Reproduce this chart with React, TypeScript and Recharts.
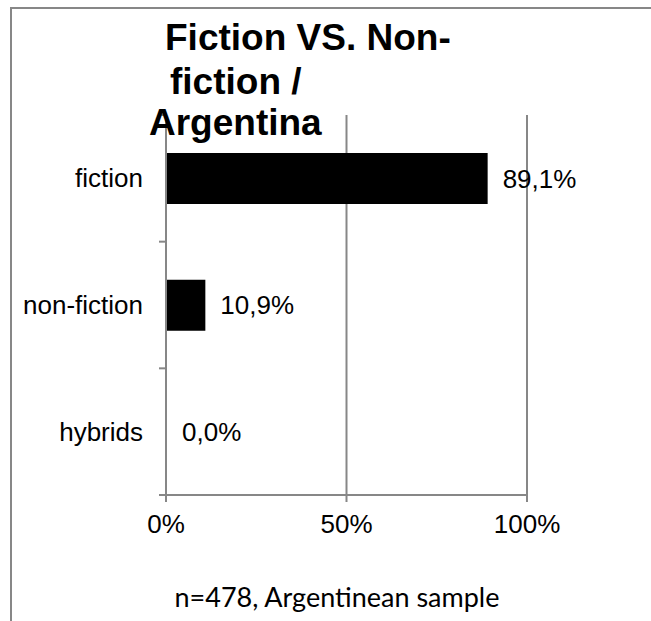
import { Bar, BarChart, CartesianGrid, Cell, LabelList, XAxis, YAxis } from "recharts";

const categories = ["fiction", "non-fiction", "hybrids"];
const shares = [89.1, 10.9, 0.0];
const xTicks = [0, 50, 100];

const titleLines = ["Fiction VS. Non-", "fiction /", "Argentina"];
const footnote = "n=478, Argentinean sample";

const data = categories.map((name, i) => ({ name, share: shares[i] }));

const GRID = "#878787";
const FONT = "'Liberation Sans', Arial, sans-serif";

const fmtPct = (v: number) => `${v.toFixed(1).replace(".", ",")}%`;

// category label at the band centre, tick mark at the band's lower edge (Excel style)
function CategoryTick(props: any) {
  const { x, y, payload, index } = props;
  const half = payload?.offset ?? 63;
  return (
    <g>
      {index === 0 && (
        <line x1={x + 1} x2={x + 8} y1={y - half} y2={y - half} stroke={GRID} strokeWidth={2} />
      )}
      <line x1={x + 1} x2={x + 8} y1={y + half} y2={y + half} stroke={GRID} strokeWidth={2} />
      <text x={x - 15} y={y} dy={9} textAnchor="end" fill="#000" fontSize={26} fontFamily={FONT}>
        {payload.value}
      </text>
    </g>
  );
}

export default function App() {
  return (
    <div style={{ position: "absolute", left: 0, top: 0, width: 651, height: 621, background: "#fff" }}>
      <div
        style={{
          position: "absolute",
          left: 10,
          top: 7,
          width: 641,
          height: 614,
          borderTop: `2px solid ${GRID}`,
          borderLeft: `2px solid ${GRID}`,
        }}
      />
      <BarChart
        width={651}
        height={621}
        data={data}
        layout="vertical"
        margin={{ top: 115, right: 124, bottom: 0, left: 0 }}
        barSize={51}
        style={{ position: "absolute", left: 0, top: 0 }}
      >
        <CartesianGrid horizontal={false} stroke={GRID} strokeWidth={2} />
        <XAxis
          type="number"
          domain={[0, 100]}
          ticks={xTicks}
          tickFormatter={(v: number) => `${v}%`}
          height={126}
          stroke={GRID}
          strokeWidth={2}
          tickSize={7}
          tickMargin={13}
          tick={{ fill: "#000", fontSize: 26, fontFamily: FONT }}
        />
        <YAxis
          type="category"
          dataKey="name"
          width={166}
          stroke={GRID}
          strokeWidth={2}
          tickLine={false}
          tick={<CategoryTick />}
          interval={0}
        />
        <Bar dataKey="share" fill="#000" minPointSize={1} isAnimationActive={false}>
          {data.map((d) => (
            <Cell key={d.name} fill={d.share > 0 ? "#000" : "transparent"} />
          ))}
          <LabelList
            dataKey="share"
            position="right"
            offset={15}
            formatter={(v: any) => fmtPct(Number(v))}
            fill="#000"
            fontSize={26}
            fontFamily={FONT}
          />
        </Bar>
      </BarChart>
      <svg
        width={651}
        height={621}
        style={{ position: "absolute", left: 0, top: 0, pointerEvents: "none" }}
      >
        <g fontFamily={FONT} fontWeight="bold" fontSize={37} fill="#000">
          <text x={165} y={50}>{titleLines[0]}</text>
          <text x={170} y={94}>{titleLines[1]}</text>
          <text x={149} y={135}>{titleLines[2]}</text>
        </g>
        <text x={337} y={607} textAnchor="middle" fontFamily="Lato, 'Open Sans', sans-serif" fontSize={27} fill="#000">
          {footnote}
        </text>
      </svg>
    </div>
  );
}
